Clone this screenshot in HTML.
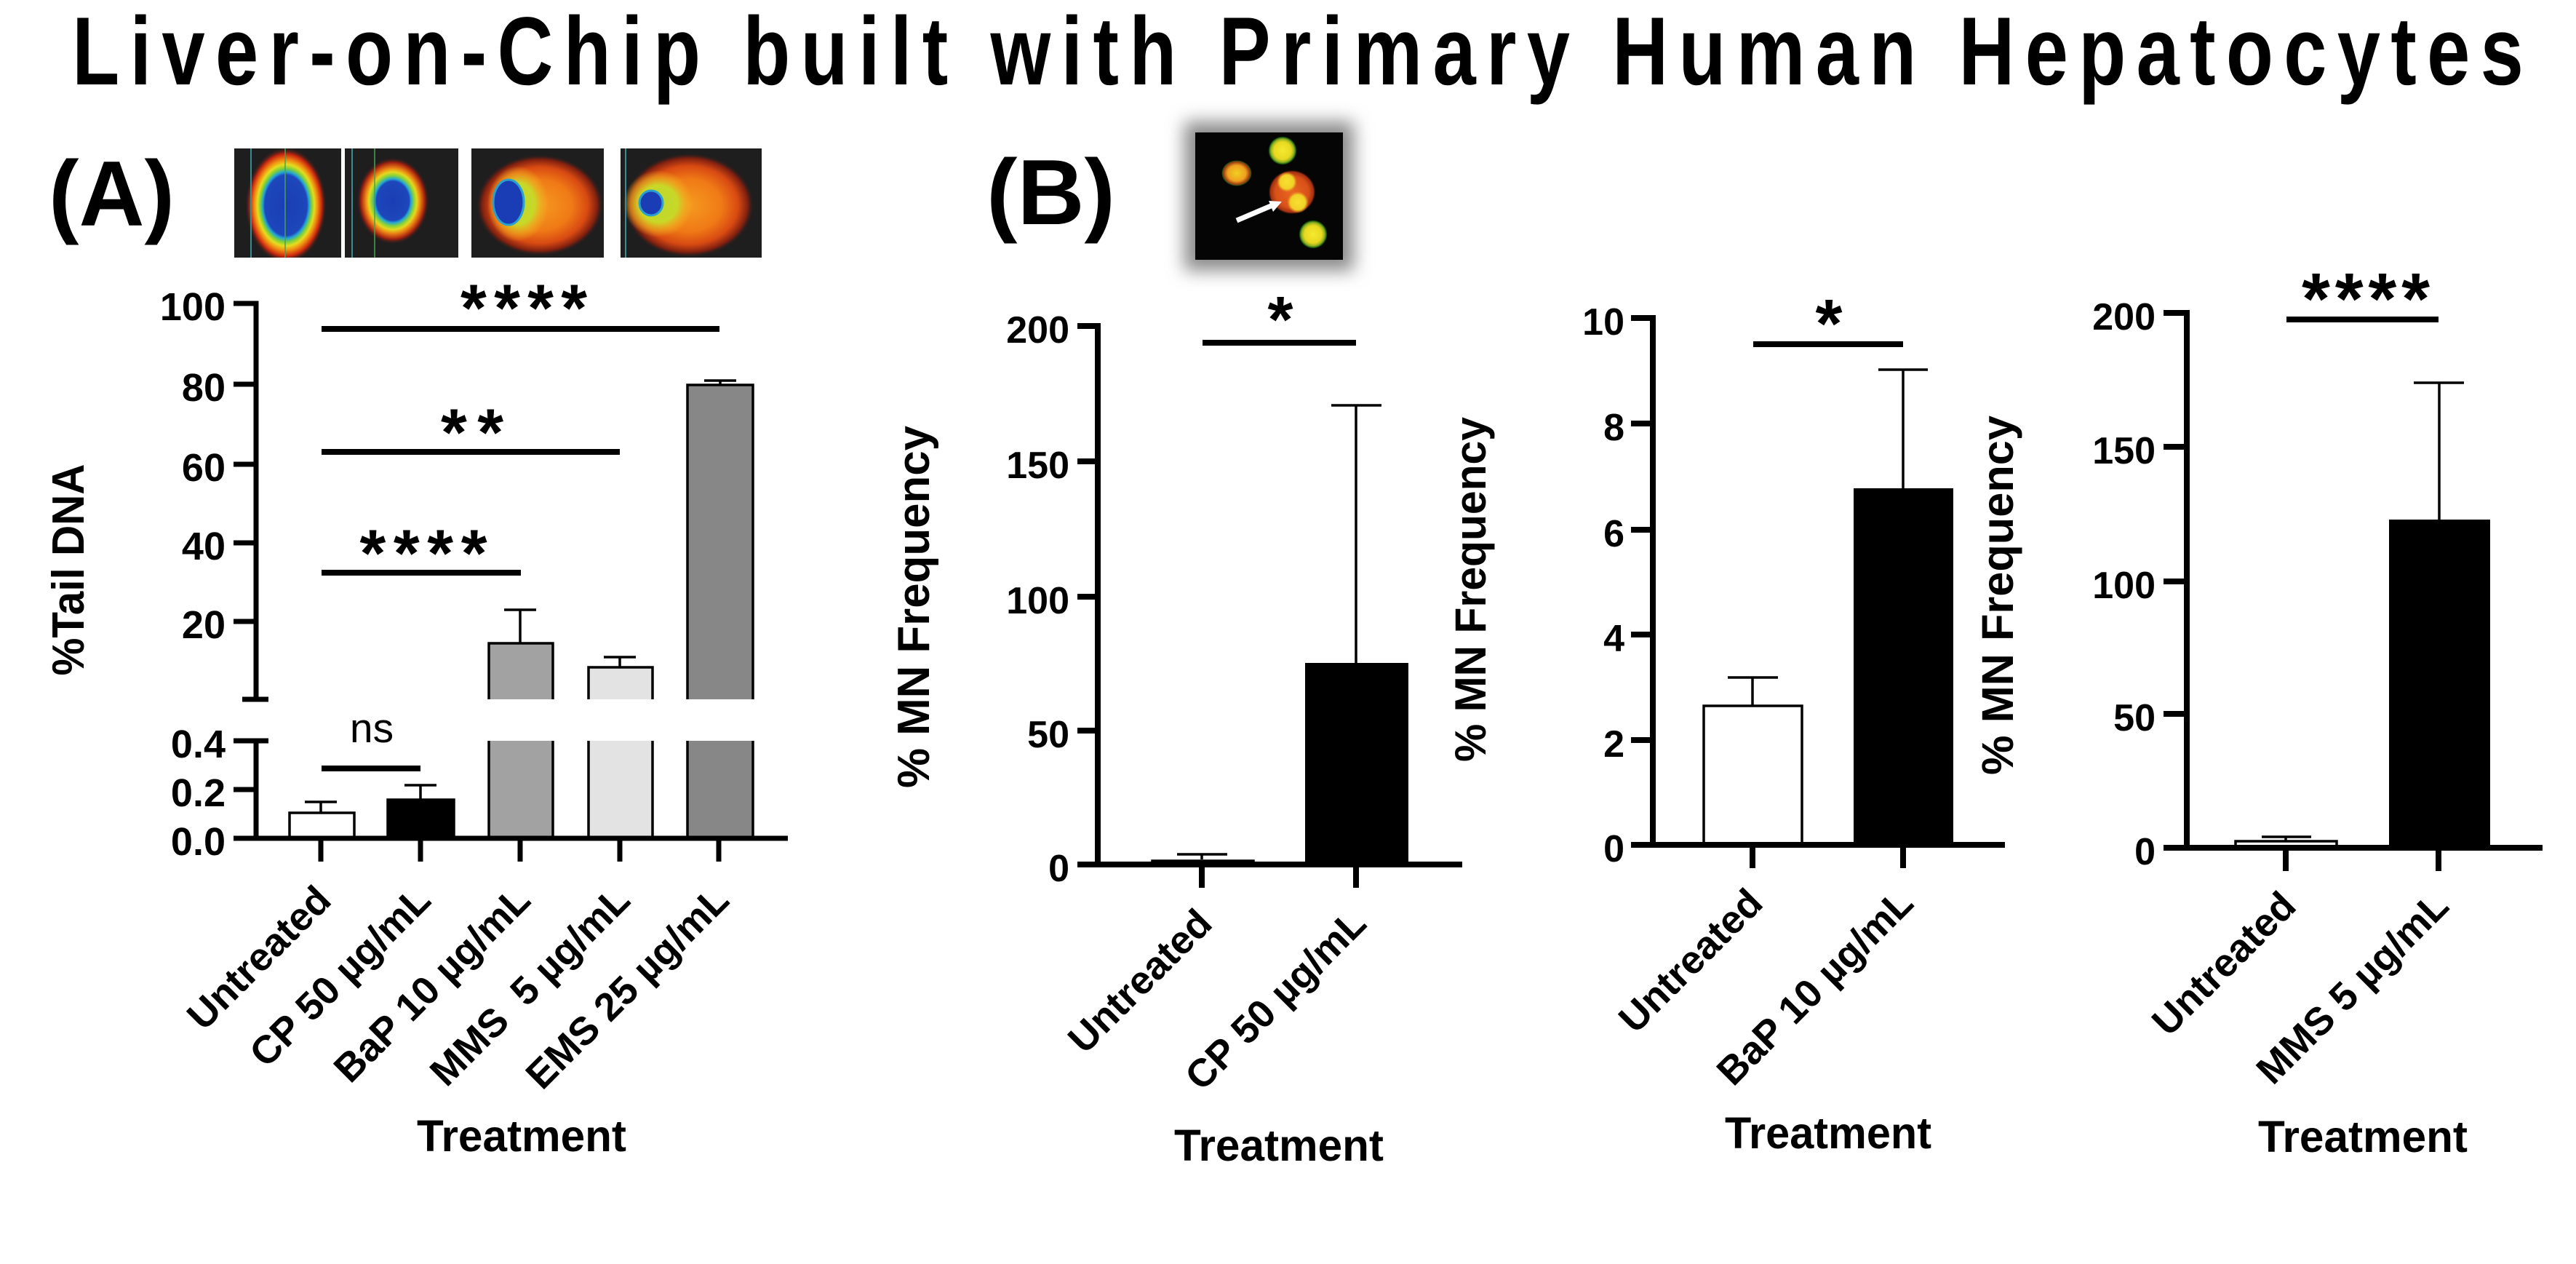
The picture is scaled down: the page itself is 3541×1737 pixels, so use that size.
<!DOCTYPE html>
<html><head><meta charset="utf-8"><style>html,body{margin:0;padding:0;background:#fff}svg{display:block}</style></head>
<body>
<svg width="3541" height="1737" viewBox="0 0 3541 1737" xmlns="http://www.w3.org/2000/svg" font-family="'Liberation Sans', Arial, sans-serif">
<defs>
<radialGradient id="g1"><stop offset="0" stop-color="#1a3db5"/><stop offset="0.52" stop-color="#1d47bb"/><stop offset="0.57" stop-color="#22a6d6"/><stop offset="0.63" stop-color="#7ccf3a"/><stop offset="0.7" stop-color="#e6dc1e"/><stop offset="0.78" stop-color="#f08a12"/><stop offset="0.88" stop-color="#c8250f"/><stop offset="1" stop-color="#1e1e1e" stop-opacity="0"/></radialGradient>
<radialGradient id="g2"><stop offset="0" stop-color="#1a3db5"/><stop offset="0.45" stop-color="#1d47bb"/><stop offset="0.5" stop-color="#22a6d6"/><stop offset="0.58" stop-color="#86d23a"/><stop offset="0.66" stop-color="#e6d81e"/><stop offset="0.76" stop-color="#e87a14"/><stop offset="0.88" stop-color="#a02010"/><stop offset="1" stop-color="#1e1e1e" stop-opacity="0"/></radialGradient>
<radialGradient id="gc"><stop offset="0" stop-color="#f59a20"/><stop offset="0.5" stop-color="#f07a16"/><stop offset="0.75" stop-color="#d84a12"/><stop offset="0.9" stop-color="#802010"/><stop offset="1" stop-color="#1e1e1e" stop-opacity="0"/></radialGradient>
<radialGradient id="gg"><stop offset="0" stop-color="#b8d830"/><stop offset="0.55" stop-color="#c8d828"/><stop offset="0.8" stop-color="#f0b020" stop-opacity="0.6"/><stop offset="1" stop-color="#f0b020" stop-opacity="0"/></radialGradient>
<radialGradient id="gy"><stop offset="0" stop-color="#f4ea30"/><stop offset="0.6" stop-color="#e8d820"/><stop offset="0.8" stop-color="#90b020"/><stop offset="0.92" stop-color="#1a6010"/><stop offset="1" stop-color="#050505" stop-opacity="0"/></radialGradient>
<radialGradient id="go"><stop offset="0" stop-color="#f0d020"/><stop offset="0.6" stop-color="#f0a020"/><stop offset="0.85" stop-color="#a04010"/><stop offset="0.95" stop-color="#205010"/><stop offset="1" stop-color="#050505" stop-opacity="0"/></radialGradient>
<radialGradient id="gr"><stop offset="0" stop-color="#e86820"/><stop offset="0.7" stop-color="#d85018"/><stop offset="0.9" stop-color="#a03010"/><stop offset="1" stop-color="#050505" stop-opacity="0"/></radialGradient>
<radialGradient id="gn"><stop offset="0" stop-color="#f8e030"/><stop offset="0.7" stop-color="#f0d028"/><stop offset="1" stop-color="#f0a020" stop-opacity="0"/></radialGradient>
<filter id="blur" x="-30%" y="-30%" width="160%" height="160%"><feGaussianBlur stdDeviation="12"/></filter>
<clipPath id="f1"><rect x="322" y="204" width="147" height="150"/></clipPath>
<clipPath id="f2"><rect x="474" y="204" width="156" height="150"/></clipPath>
<clipPath id="f3"><rect x="648" y="204" width="182" height="150"/></clipPath>
<clipPath id="f4"><rect x="853" y="204" width="194" height="150"/></clipPath>
</defs>

<!-- Title -->
<text transform="scale(0.8,1)" x="124" y="116" font-size="133" font-weight="bold" textLength="4212" lengthAdjust="spacing">Liver-on-Chip built with Primary Human Hepatocytes</text>

<!-- Panel labels -->
<text x="67" y="310" font-size="127" font-weight="bold" textLength="173" lengthAdjust="spacingAndGlyphs">(A)</text>
<text x="1356" y="308" font-size="127" font-weight="bold" textLength="177" lengthAdjust="spacingAndGlyphs">(B)</text>

<!-- Comet images -->
<rect x="322" y="204" width="147" height="150" fill="#1e1e1e"/>
<g clip-path="url(#f1)"><ellipse cx="393" cy="282" rx="56" ry="80" fill="url(#g1)"/></g>
<line x1="345" y1="204" x2="345" y2="354" stroke="#3a8a90" stroke-width="2"/>
<line x1="392" y1="204" x2="392" y2="354" stroke="#4aa050" stroke-width="1.5"/>

<rect x="474" y="204" width="156" height="150" fill="#1e1e1e"/>
<g clip-path="url(#f2)"><ellipse cx="540" cy="276" rx="50" ry="60" fill="url(#g2)"/></g>
<line x1="484" y1="204" x2="484" y2="354" stroke="#3a8a90" stroke-width="2"/>
<line x1="515" y1="204" x2="515" y2="354" stroke="#4aa050" stroke-width="1.5"/>

<rect x="648" y="204" width="182" height="150" fill="#1e1e1e"/>
<g clip-path="url(#f3)">
<ellipse cx="742" cy="282" rx="88" ry="70" fill="url(#gc)"/>
<ellipse cx="712" cy="280" rx="42" ry="52" fill="url(#gg)"/>
<ellipse cx="699" cy="278" rx="21" ry="31" fill="#1a3db5" stroke="#2aa0d0" stroke-width="3"/>
</g>

<rect x="853" y="204" width="194" height="150" fill="#1e1e1e"/>
<g clip-path="url(#f4)">
<ellipse cx="947" cy="282" rx="90" ry="72" fill="url(#gc)"/>
<ellipse cx="905" cy="280" rx="48" ry="46" fill="url(#gg)"/>
<ellipse cx="895" cy="279" rx="16" ry="17" fill="#1a3db5" stroke="#2aa0d0" stroke-width="3"/>
</g>
<line x1="860" y1="204" x2="860" y2="354" stroke="#3a8a90" stroke-width="2"/>

<!-- MN image -->
<rect x="1628" y="167" width="233" height="205" fill="#8a8a8a" filter="url(#blur)"/>
<rect x="1643" y="182" width="203" height="175" fill="#050505"/>
<circle cx="1763" cy="207" r="20" fill="url(#gy)"/>
<circle cx="1805" cy="322" r="20" fill="url(#gy)"/>
<ellipse cx="1700" cy="238" rx="21" ry="18" fill="url(#go)"/>
<ellipse cx="1776" cy="264" rx="33" ry="31" fill="url(#gr)"/>
<circle cx="1769" cy="250" r="14" fill="url(#gn)"/>
<circle cx="1784" cy="278" r="15" fill="url(#gn)"/>
<line x1="1700" y1="303" x2="1747" y2="283" stroke="#fff" stroke-width="7"/>
<polygon points="1762,277 1750,291 1744,276" fill="#fff"/>

<!-- ================= PANEL A ================= -->
<g stroke="#000" stroke-width="7" fill="none">
  <line x1="352" y1="413.5" x2="352" y2="961"/>
  <line x1="352" y1="1018" x2="352" y2="1152"/>
  <line x1="321" y1="417" x2="352" y2="417"/>
  <line x1="321" y1="528" x2="352" y2="528"/>
  <line x1="321" y1="638" x2="352" y2="638"/>
  <line x1="321" y1="746" x2="352" y2="746"/>
  <line x1="321" y1="854" x2="352" y2="854"/>
  <line x1="333" y1="961" x2="369" y2="961"/>
  <line x1="321" y1="1018" x2="369" y2="1018"/>
  <line x1="321" y1="1085" x2="352" y2="1085"/>
  <line x1="441" y1="1152" x2="441" y2="1184"/>
  <line x1="578" y1="1152" x2="578" y2="1184"/>
  <line x1="715" y1="1152" x2="715" y2="1184"/>
  <line x1="852" y1="1152" x2="852" y2="1184"/>
  <line x1="988" y1="1152" x2="988" y2="1184"/>
</g>
<!-- bars A -->
<rect x="398" y="1117" width="89" height="35" fill="#fff" stroke="#000" stroke-width="3.5"/>
<rect x="533" y="1099" width="91" height="53" fill="#000" stroke="#000" stroke-width="3.5"/>
<rect x="672" y="884" width="88" height="77" fill="#a2a2a2"/>
<rect x="672" y="1018" width="88" height="134" fill="#a2a2a2"/>
<rect x="809" y="917" width="88" height="44" fill="#e2e3e2"/>
<rect x="809" y="1018" width="88" height="134" fill="#e2e3e2"/>
<rect x="945" y="529" width="90" height="432" fill="#878787"/>
<rect x="945" y="1018" width="90" height="134" fill="#878787"/>
<g stroke="#000" stroke-width="3.5" fill="none">
  <path d="M672,961 V884 H760 V961"/>
  <path d="M672,1018 V1152 M760,1018 V1152"/>
  <path d="M809,961 V917 H897 V961"/>
  <path d="M809,1018 V1152 M897,1018 V1152"/>
  <path d="M945,961 V529 H1035 V961"/>
  <path d="M945,1018 V1152 M1035,1018 V1152"/>
  <!-- error bars -->
  <path d="M441,1117 V1102 M419,1102 H463"/>
  <path d="M578,1099 V1079 M556,1079 H600"/>
  <path d="M715,884 V838 M693,838 H737"/>
  <path d="M852,917 V903 M830,903 H874"/>
  <path d="M990,529 V523 M968,523 H1012"/>
</g>
<line x1="321" y1="1152" x2="1083" y2="1152" stroke="#000" stroke-width="7"/>
<!-- sig lines A -->
<g stroke="#000" stroke-width="8">
  <line x1="442" y1="452" x2="989" y2="452"/>
  <line x1="442" y1="621" x2="852" y2="621"/>
  <line x1="442" y1="787" x2="716" y2="787"/>
  <line x1="442" y1="1056" x2="578" y2="1056"/>
</g>
<g font-size="92" font-weight="bold" text-anchor="middle">
  <text x="720" y="455" textLength="174" lengthAdjust="spacing">****</text>
  <text x="649" y="626" textLength="86" lengthAdjust="spacing">**</text>
  <text x="582" y="792" textLength="175" lengthAdjust="spacing">****</text>
</g>
<text x="511" y="1020" font-size="57" text-anchor="middle">ns</text>
<!-- tick labels A -->
<g font-size="54" font-weight="bold" text-anchor="end">
  <text x="310" y="440">100</text>
  <text x="310" y="551">80</text>
  <text x="310" y="661">60</text>
  <text x="310" y="769">40</text>
  <text x="310" y="877">20</text>
  <text x="310" y="1041">0.4</text>
  <text x="310" y="1108">0.2</text>
  <text x="310" y="1175">0.0</text>
</g>
<text transform="translate(115,783) rotate(-90)" text-anchor="middle" font-size="62" font-weight="bold" textLength="291" lengthAdjust="spacingAndGlyphs">%Tail DNA</text>
<g font-size="54" font-weight="bold" text-anchor="end">
  <text transform="translate(458,1240) rotate(-45)">Untreated</text>
  <text transform="translate(595,1240) rotate(-45)">CP 50 µg/mL</text>
  <text transform="translate(732,1240) rotate(-45)">BaP 10 µg/mL</text>
  <text transform="translate(869,1240) rotate(-45)">MMS &#160;5 µg/mL</text>
  <text transform="translate(1005,1240) rotate(-45)">EMS 25 µg/mL</text>
</g>
<text x="717" y="1582" font-size="61" font-weight="bold" text-anchor="middle" textLength="288" lengthAdjust="spacingAndGlyphs">Treatment</text>

<!-- ================= PANEL B1 ================= -->
<g stroke="#000" stroke-width="8" fill="none">
  <line x1="1509" y1="444" x2="1509" y2="1188"/>
  <line x1="1481" y1="448" x2="1509" y2="448"/>
  <line x1="1481" y1="634" x2="1509" y2="634"/>
  <line x1="1481" y1="820" x2="1509" y2="820"/>
  <line x1="1481" y1="1004" x2="1509" y2="1004"/>
  <line x1="1652" y1="1188" x2="1652" y2="1220"/>
  <line x1="1864" y1="1188" x2="1864" y2="1220"/>
</g>
<rect x="1584" y="1183" width="139" height="5" fill="#fff" stroke="#000" stroke-width="3.5"/>
<rect x="1794" y="911" width="142" height="277" fill="#000"/>
<g stroke="#000" stroke-width="3.5" fill="none">
  <path d="M1652,1181 V1174 M1618,1174 H1687"/>
  <path d="M1864,911 V557 M1830,557 H1899"/>
</g>
<line x1="1481" y1="1188" x2="2010" y2="1188" stroke="#000" stroke-width="8"/>
<line x1="1653" y1="471" x2="1864" y2="471" stroke="#000" stroke-width="8"/>
<text x="1760" y="470" font-size="90" font-weight="bold" text-anchor="middle">*</text>
<g font-size="52" font-weight="bold" text-anchor="end">
  <text x="1470" y="471">200</text>
  <text x="1470" y="657">150</text>
  <text x="1470" y="843">100</text>
  <text x="1470" y="1027">50</text>
  <text x="1470" y="1211">0</text>
</g>
<text transform="translate(1277,834) rotate(-90)" text-anchor="middle" font-size="62" font-weight="bold" textLength="498" lengthAdjust="spacingAndGlyphs">% MN Frequency</text>
<g font-size="54" font-weight="bold" text-anchor="end">
  <text transform="translate(1669,1272) rotate(-45)">Untreated</text>
  <text transform="translate(1881,1272) rotate(-45)">CP 50 µg/mL</text>
</g>
<text x="1758" y="1595" font-size="61" font-weight="bold" text-anchor="middle" textLength="288" lengthAdjust="spacingAndGlyphs">Treatment</text>

<!-- ================= PANEL B2 ================= -->
<g stroke="#000" stroke-width="8" fill="none">
  <line x1="2272" y1="433" x2="2272" y2="1161"/>
  <line x1="2242" y1="437" x2="2272" y2="437"/>
  <line x1="2242" y1="582" x2="2272" y2="582"/>
  <line x1="2242" y1="728" x2="2272" y2="728"/>
  <line x1="2242" y1="872" x2="2272" y2="872"/>
  <line x1="2242" y1="1017" x2="2272" y2="1017"/>
  <line x1="2409" y1="1161" x2="2409" y2="1193"/>
  <line x1="2616" y1="1161" x2="2616" y2="1193"/>
</g>
<rect x="2342" y="970" width="135" height="191" fill="#fff" stroke="#000" stroke-width="3.5"/>
<rect x="2548" y="671" width="137" height="490" fill="#000"/>
<g stroke="#000" stroke-width="3.5" fill="none">
  <path d="M2409,970 V931 M2375,931 H2444"/>
  <path d="M2616,671 V508 M2582,508 H2650"/>
</g>
<line x1="2242" y1="1161" x2="2756" y2="1161" stroke="#000" stroke-width="8"/>
<line x1="2410" y1="473" x2="2616" y2="473" stroke="#000" stroke-width="8"/>
<text x="2514" y="477" font-size="95" font-weight="bold" text-anchor="middle">*</text>
<g font-size="52" font-weight="bold" text-anchor="end">
  <text x="2233" y="460">10</text>
  <text x="2233" y="605">8</text>
  <text x="2233" y="751">6</text>
  <text x="2233" y="895">4</text>
  <text x="2233" y="1040">2</text>
  <text x="2233" y="1184">0</text>
</g>
<text transform="translate(2042,810) rotate(-90)" text-anchor="middle" font-size="60" font-weight="bold" textLength="474" lengthAdjust="spacingAndGlyphs">% MN Frequency</text>
<g font-size="54" font-weight="bold" text-anchor="end">
  <text transform="translate(2426,1244) rotate(-45)">Untreated</text>
  <text transform="translate(2633,1244) rotate(-45)">BaP 10 µg/mL</text>
</g>
<text x="2513" y="1578" font-size="61" font-weight="bold" text-anchor="middle" textLength="284" lengthAdjust="spacingAndGlyphs">Treatment</text>

<!-- ================= PANEL B3 ================= -->
<g stroke="#000" stroke-width="8" fill="none">
  <line x1="3006" y1="426" x2="3006" y2="1165"/>
  <line x1="2974" y1="430" x2="3006" y2="430"/>
  <line x1="2974" y1="614" x2="3006" y2="614"/>
  <line x1="2974" y1="799" x2="3006" y2="799"/>
  <line x1="2974" y1="981" x2="3006" y2="981"/>
  <line x1="3142" y1="1165" x2="3142" y2="1197"/>
  <line x1="3352" y1="1165" x2="3352" y2="1197"/>
</g>
<rect x="3073" y="1156" width="139" height="9" fill="#fff" stroke="#000" stroke-width="3.5"/>
<rect x="3284" y="714" width="139" height="451" fill="#000"/>
<g stroke="#000" stroke-width="3.5" fill="none">
  <path d="M3142,1155 V1150 M3109,1150 H3177"/>
  <path d="M3353,714 V526 M3318,526 H3387"/>
</g>
<line x1="2974" y1="1165" x2="3495" y2="1165" stroke="#000" stroke-width="8"/>
<line x1="3143" y1="439" x2="3352" y2="439" stroke="#000" stroke-width="8"/>
<text x="3252" y="445" font-size="100" font-weight="bold" text-anchor="middle" textLength="176" lengthAdjust="spacing">****</text>
<g font-size="52" font-weight="bold" text-anchor="end">
  <text x="2963" y="453">200</text>
  <text x="2963" y="637">150</text>
  <text x="2963" y="822">100</text>
  <text x="2963" y="1004">50</text>
  <text x="2963" y="1188">0</text>
</g>
<text transform="translate(2767,818) rotate(-90)" text-anchor="middle" font-size="61" font-weight="bold" textLength="494" lengthAdjust="spacingAndGlyphs">% MN Frequency</text>
<g font-size="54" font-weight="bold" text-anchor="end">
  <text transform="translate(3159,1248) rotate(-45)">Untreated</text>
  <text transform="translate(3369,1248) rotate(-45)">MMS 5 µg/mL</text>
</g>
<text x="3248" y="1583" font-size="61" font-weight="bold" text-anchor="middle" textLength="288" lengthAdjust="spacingAndGlyphs">Treatment</text>
</svg>
</body></html>
